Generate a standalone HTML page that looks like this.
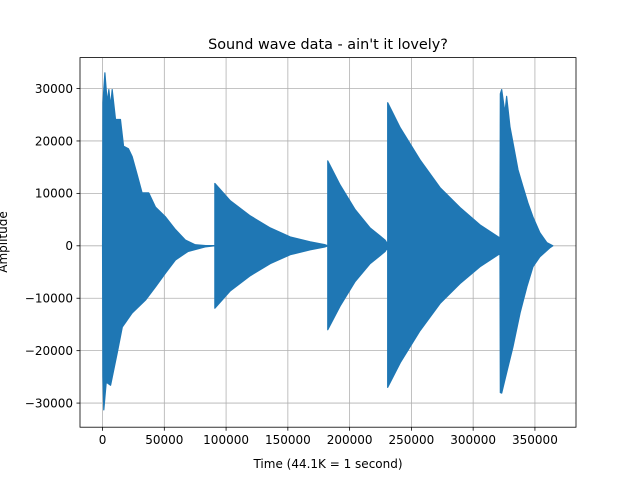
<!DOCTYPE html>
<html><head><meta charset="utf-8"><style>
body{margin:0;background:#fff;}
svg text{font-family:"DejaVu Sans","Liberation Sans",sans-serif;fill:#000;}
</style></head><body>
<svg id="chart" width="640" height="480" xmlns="http://www.w3.org/2000/svg">
<rect width="640" height="480" fill="#fff"/>
<g id="grid"></g>
<g id="plot"></g>
<rect x="80" y="57.6" width="496" height="369.6" fill="none" stroke="#000" stroke-width="0.8"/>
<g id="ticks"></g>
<text x="328" y="49" font-size="14.4" text-anchor="middle">Sound wave data - ain't it lovely?</text>
<text x="328" y="468" font-size="12" text-anchor="middle">Time (44.1K = 1 second)</text>
<text x="0" y="0" font-size="12" text-anchor="middle" transform="translate(7,242) rotate(-90)">Amplitude</text>
</svg>
<script>
const xTicks=[0,50000,100000,150000,200000,250000,300000,350000];
const yTicks=[-30000,-20000,-10000,0,10000,20000,30000];
const upperT=[0,300,1900,3800,5100,6500,7800,10500,14500,17000,21000,24000,28000,32000,37400,42800,51000,59000,67000,75000,86000,90900,90900,103400,119600,135800,151900,168100,180200,182300,182300,192300,204500,216600,228700,230800,230800,241000,257000,273200,289400,305500,321700,322000,323100,325700,327100,329800,332200,336300,340300,344300,348400,354000,359700,364500];
const upperA=[0,27300,33000,27300,29800,26600,29800,24100,24100,19000,18500,17000,13600,10100,10100,7400,5500,3100,1100,200,0,0,11900,8600,5700,3400,1700,760,200,0,16200,11600,6900,3400,1100,300,27300,22500,16400,11100,7300,4000,1500,29000,29800,25400,28500,22700,19700,14500,11300,8200,5500,2500,600,0];
const lowerT=[0,300,1000,3000,6500,11900,16000,24000,35000,43000,51000,59000,69000,83000,90900,90900,103400,119600,135800,151900,168100,180200,182300,182300,192300,204500,216600,228700,230800,230800,241000,257000,273200,289400,305500,321700,322000,323100,327000,332200,338000,343500,348400,354000,362000,364500];
const lowerA=[0,-25000,-31300,-26000,-26600,-20400,-15500,-12800,-10300,-7800,-5200,-2700,-1100,-200,0,-11900,-8600,-5700,-3400,-1700,-760,-200,0,-16000,-11500,-6800,-3400,-1100,-300,-27000,-22300,-16200,-11000,-7200,-4000,-1500,-28000,-28100,-24300,-19300,-12800,-7800,-4000,-2100,-400,0];

const L=80,R=576,T=57.6,B=427.2;
const xMin=-18250,xMax=383250,yMin=-34600,yMax=35900;
const sx=v=>L+(v-xMin)/(xMax-xMin)*(R-L);
const sy=v=>B-(v-yMin)/(yMax-yMin)*(B-T);
const NS='http://www.w3.org/2000/svg';
const grid=document.getElementById('grid'),ticks=document.getElementById('ticks'),plot=document.getElementById('plot');
function mk(tag,attrs,parent){const e=document.createElementNS(NS,tag);for(const k in attrs)e.setAttribute(k,attrs[k]);parent.appendChild(e);return e;}
xTicks.forEach(v=>{
  const x=sx(v);
  const g=mk('line',{x1:x,x2:x,y1:T,y2:B,stroke:'#b0b0b0','stroke-width':0.8},grid);
  
  
  const t=mk('line',{x1:x,x2:x,y1:B,y2:B+3.5,stroke:'#000','stroke-width':0.8},ticks);
  
  
  const l=mk('text',{x:x,y:B+17,'font-size':12,'text-anchor':'middle'},ticks);
  l.textContent=v;
  
  
});
yTicks.forEach(v=>{
  const y=sy(v);
  const g=mk('line',{x1:L,x2:R,y1:y,y2:y,stroke:'#b0b0b0','stroke-width':0.8},grid);
  
  
  const t=mk('line',{x1:L-3.5,x2:L,y1:y,y2:y,stroke:'#000','stroke-width':0.8},ticks);
  
  
  const l=mk('text',{x:L-7,y:y+4.3,'font-size':12,'text-anchor':'end'},ticks);
  l.textContent=v.toString().replace('-','\u2212');
  
  
});
let pts=[];
upperT.forEach((t,i)=>pts.push(sx(t).toFixed(2)+','+sy(upperA[i]).toFixed(2)));
for(let i=lowerT.length-1;i>=0;i--)pts.push(sx(lowerT[i]).toFixed(2)+','+sy(lowerA[i]).toFixed(2));
const base=mk('line',{x1:sx(0),x2:sx(364500),y1:sy(0),y2:sy(0),stroke:'#1f77b4','stroke-width':1.5},plot);


const wave=mk('polygon',{points:pts.join(' '),fill:'#1f77b4',stroke:'#1f77b4','stroke-width':1.2,'stroke-linejoin':'round'},plot);


</script>
</body></html>
